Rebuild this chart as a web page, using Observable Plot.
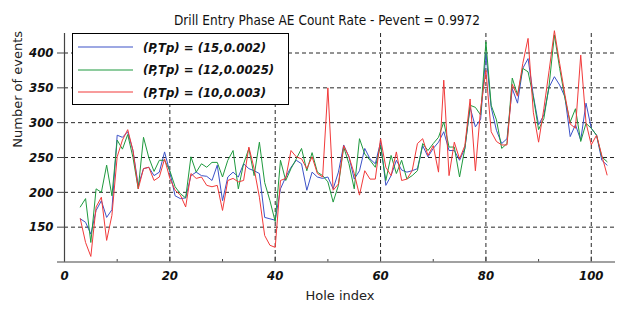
<!DOCTYPE html>
<html><head><meta charset="utf-8">
<script src="https://cdn.jsdelivr.net/npm/d3@7"></script>
<script src="https://cdn.jsdelivr.net/npm/@observablehq/plot@0.6"></script>
<style>
body{margin:0;background:#fff;}
#wrap{position:relative;width:627px;height:309px;overflow:hidden;}
#legend{position:absolute;left:72px;top:33px;width:217px;height:72px;border:1px solid #000;background:#fff;box-sizing:border-box;}
.row{position:absolute;left:0;height:20px;display:flex;align-items:center;}
.sw{margin-left:5px;margin-right:10px;display:block;}
.lt{font-family:"DejaVu Sans Condensed","DejaVu Sans",sans-serif;font-stretch:condensed;font-weight:bold;font-style:italic;font-size:13px;color:#111;white-space:nowrap;}
</style></head><body><div id="wrap"></div>
<script>
const title = "Drill Entry Phase AE Count Rate - Pevent = 0.9972";
const xLabel = "Hole index";
const yLabel = "Number of events";
const seriesNames = ["(P,Tp) = (15,0.002)", "(P,Tp) = (12,0.0025)", "(P,Tp) = (10,0.003)"];
const seriesColors = ["#3c52c8", "#1f9a3e", "#f23a3a"];
const xTicks = [0, 20, 40, 60, 80, 100];
const xMinorTicks = [10, 30, 50, 70, 90];
const yTicks = [100, 150, 200, 250, 300, 350, 400];
const yGrid = [150, 200, 250, 300, 350, 400];
const xGrid = [20, 40, 60, 80, 100];
const holeIndex = d3.range(3, 104);

const blue = [162,157,140,174,188,164,175,282,279,287,260,210,234,236,224,229,258,229,195,191,
  192,224,229,224,223,217,239,188,222,229,222,241,234,231,227,164,162,160,205,222,
  236,246,241,203,229,222,220,222,205,229,268,251,219,231,263,248,241,272,210,224,
  246,232,229,231,234,267,251,263,272,287,260,260,246,263,322,294,305,400,322,289,
  270,277,349,328,378,392,339,297,311,351,366,354,337,280,297,275,328,292,282,246,239];
const green = [179,191,128,205,200,239,195,275,262,283,250,205,279,250,230,246,246,231,208,198,
  192,251,229,241,236,243,243,222,246,260,205,241,263,224,272,214,188,158,246,217,
  234,248,263,231,257,229,224,215,186,210,265,241,205,277,255,246,236,267,217,253,
  227,246,219,224,231,270,260,270,279,301,265,265,222,263,325,322,311,416,325,304,
  263,270,364,340,378,373,337,290,306,354,426,378,335,301,320,273,299,292,282,251,244];
const red = [162,128,108,179,193,131,167,251,275,290,260,205,234,236,217,222,248,220,203,196,
  179,227,220,222,210,208,210,174,217,220,215,217,265,234,193,138,124,121,217,220,
  260,251,248,234,251,227,222,350,203,212,267,251,227,196,231,219,219,277,236,224,
  258,217,219,231,270,277,253,267,229,361,224,272,248,267,334,231,320,375,287,273,
  268,268,355,338,385,421,315,272,320,375,432,385,340,298,292,397,300,268,282,253,225];

const seriesValues = [blue, green, red];
const rows = [];
seriesValues.forEach((vals, s) => vals.forEach((v, i) => rows.push({x: holeIndex[i], y: v, s})));

const font = '"DejaVu Sans Condensed","DejaVu Sans",sans-serif';
const W = 627, H = 309, mT = 33, mB = 47.5, mL = 64, mR = 12;
const innerH = H - mT - mB;

const chart = Plot.plot({
  width: W, height: H,
  marginTop: mT, marginBottom: mB, marginLeft: mL, marginRight: mR,
  style: {fontFamily: font, background: "#fff", overflow: "visible"},
  x: {domain: [0, 104.6], axis: null},
  y: {domain: [100, 428], axis: null},
  marks: [
    Plot.ruleY(yGrid, {y: d => d, stroke: "#000", strokeDasharray: "4,3", strokeWidth: 1, strokeOpacity: 0.85}),
    Plot.ruleX(xGrid, {x: d => d, stroke: "#000", strokeDasharray: "4,3", strokeWidth: 1, strokeOpacity: 0.85}),
    ...seriesValues.map((vals, s) => Plot.line(rows.filter(r => r.s === s), {x: "x", y: "y", stroke: seriesColors[s], strokeWidth: 1})),
    Plot.ruleX([0], {stroke: "#444", strokeWidth: 1.2}),
    Plot.ruleY([100], {stroke: "#444", strokeWidth: 1.2}),
    Plot.axisY(yTicks, {anchor: "left", tickSize: 7, tickPadding: 4, stroke: "#444",
      tickFormat: d => d === 100 ? "" : d, fontSize: 13, fontWeight: "bold", fontStyle: "italic", fill: "#111",
      label: null}),
    Plot.tickX(xTicks, {x: d => d, stroke: "#444", insetTop: innerH - 5}),
    Plot.tickX(xMinorTicks, {x: d => d, stroke: "#444", insetTop: innerH - 2.5}),
    Plot.axisX(xTicks, {anchor: "bottom", tickSize: 0, tickPadding: 9, fontSize: 13, fontWeight: "bold", fontStyle: "italic", fill: "#111", label: null}),
    Plot.text([title], {text: d => d, frameAnchor: "top", dy: -18, dx: -13, fontSize: 13.5, fill: "#111", fontFamily: font}),
    Plot.text([xLabel], {text: d => d, frameAnchor: "bottom", dy: 38, dx: 0, fontSize: 13, fill: "#222", fontFamily: '"DejaVu Sans",sans-serif'}),
    Plot.text([yLabel], {text: d => d, frameAnchor: "left", rotate: -90, dx: -47, dy: 0, fontSize: 13, fill: "#222", fontFamily: '"DejaVu Sans",sans-serif', letterSpacing: "1px"})
  ]
});
const wrap = document.getElementById("wrap");
wrap.appendChild(chart);

const legend = document.createElement("div");
legend.id = "legend";
const svgNS = "http://www.w3.org/2000/svg";
seriesNames.forEach((name, i) => {
  const row = document.createElement("div");
  row.className = "row";
  row.style.top = (3 + i * 22.5) + "px";
  const sw = document.createElementNS(svgNS, "svg");
  sw.setAttribute("width", "55"); sw.setAttribute("height", "4");
  sw.setAttribute("class", "sw");
  const ln = document.createElementNS(svgNS, "line");
  ln.setAttribute("x1", "0"); ln.setAttribute("x2", "55");
  ln.setAttribute("y1", "2"); ln.setAttribute("y2", "2");
  ln.setAttribute("stroke", seriesColors[i]); ln.setAttribute("stroke-width", "1.2");
  sw.appendChild(ln);
  const t = document.createElement("span");
  t.className = "lt";
  t.textContent = name;
  row.appendChild(sw); row.appendChild(t);
  legend.appendChild(row);
});
wrap.appendChild(legend);
</script></body></html>
